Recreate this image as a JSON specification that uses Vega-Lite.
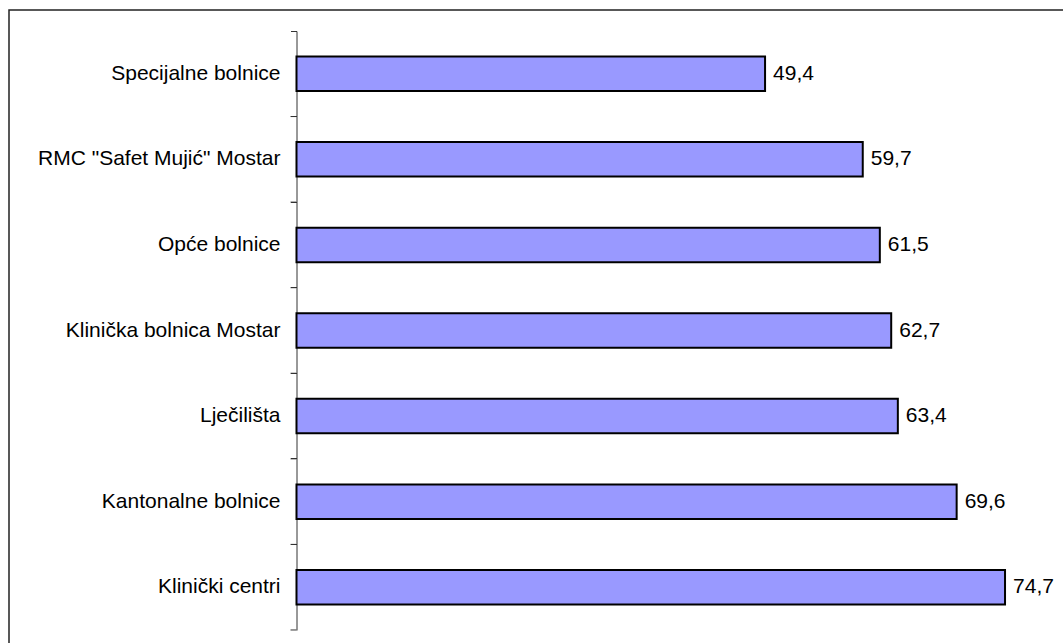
{
  "$schema": "https://vega.github.io/schema/vega-lite/v6.json",
  "width": 1061,
  "height": 641,
  "autosize": {"type": "none"},
  "padding": {"left": 9, "top": 10, "right": 0, "bottom": 0},
  "background": "white",
  "config": {
    "view": {"stroke": "#222222", "strokeWidth": 1.5},
    "font": "Liberation Sans"
  },
  "data": {
    "values": [
      {"ustanova": "Specijalne bolnice", "vrijednost": 49.4},
      {"ustanova": "RMC \"Safet Mujić\" Mostar", "vrijednost": 59.7},
      {"ustanova": "Opće bolnice", "vrijednost": 61.5},
      {"ustanova": "Klinička bolnica Mostar", "vrijednost": 62.7},
      {"ustanova": "Lječilišta", "vrijednost": 63.4},
      {"ustanova": "Kantonalne bolnice", "vrijednost": 69.6},
      {"ustanova": "Klinički centri", "vrijednost": 74.7}
    ]
  },
  "transform": [
    {"calculate": "replace(format(datum.vrijednost, '.1f'), '.', ',')", "as": "oznaka"}
  ],
  "encoding": {
    "y": {
      "field": "ustanova",
      "type": "nominal",
      "sort": null,
      "scale": {"range": [21, 620], "paddingInner": 0.597, "paddingOuter": 0.2985},
      "axis": {
        "domain": true,
        "domainColor": "#333333",
        "domainWidth": 1,
        "ticks": true,
        "tickColor": "#333333",
        "tickWidth": 1,
        "tickSize": 6,
        "bandPosition": -0.74,
        "grid": false,
        "offset": -287.5,
        "labelPadding": 10.5,
        "labelFontSize": 21,
        "labelFont": "Liberation Sans",
        "labelColor": "#000000",
        "labelLimit": 400,
        "title": null
      }
    },
    "x": {
      "field": "vrijednost",
      "type": "quantitative",
      "scale": {"domain": [-30.31, 81.55], "nice": false, "zero": false},
      "axis": null
    }
  },
  "layer": [
    {
      "mark": {"type": "rule", "color": "#333333", "strokeWidth": 1},
      "encoding": {
        "y": {"field": "ustanova", "type": "nominal", "sort": null, "bandPosition": 1.74},
        "x": {"datum": -0.63, "type": "quantitative"},
        "x2": {"datum": 0}
      }
    },
    {
      "mark": {"type": "bar", "fill": "#9999FF", "stroke": "#000000", "strokeWidth": 2}
    },
    {
      "mark": {"type": "text", "align": "left", "baseline": "middle", "dx": 8, "fontSize": 21, "font": "Liberation Sans", "color": "#000000"},
      "encoding": {
        "text": {"field": "oznaka", "type": "nominal"}
      }
    }
  ]
}
